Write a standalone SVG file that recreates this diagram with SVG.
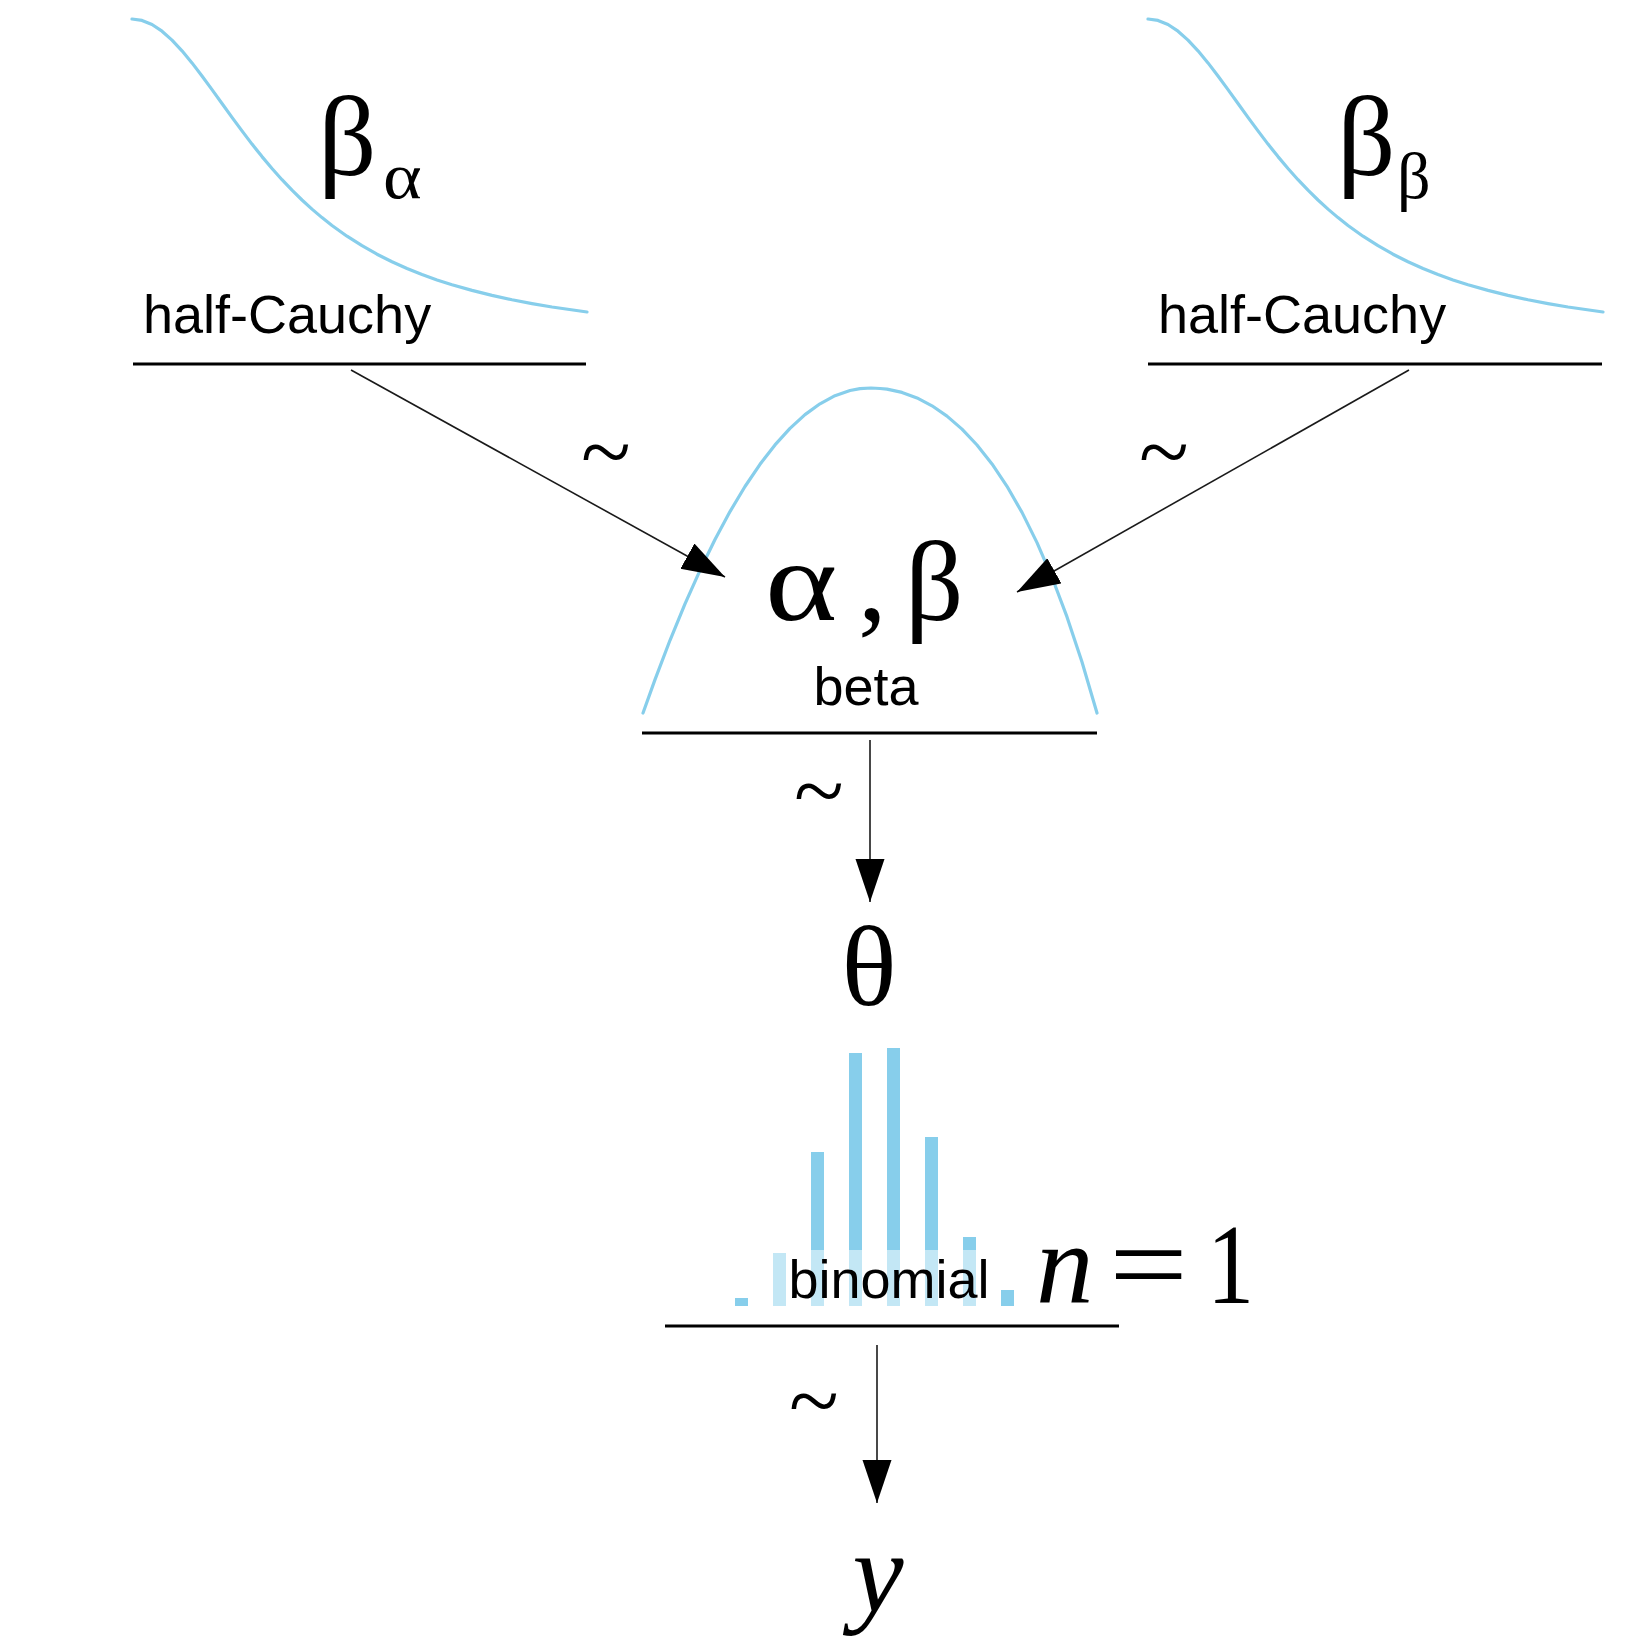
<svg xmlns="http://www.w3.org/2000/svg" width="1650" height="1650" viewBox="0 0 1650 1650">
<defs>
<style>
.curve{fill:none;stroke:#87CEEB;stroke-width:3.2;stroke-linejoin:round;stroke-linecap:round}
.rule{stroke:#000;stroke-width:3}
.edge{stroke:#1a1a1a;stroke-width:1.6;fill:none}
.lbl{font-family:"Liberation Sans",Arial,sans-serif;font-size:54px;fill:#000}
.math{font-family:"Liberation Serif","Times New Roman",serif;font-size:115px;fill:#000}
.sub{font-family:"Liberation Serif","Times New Roman",serif;font-size:66px;fill:#000}
.it{font-style:italic}
.tilde{font-family:"Liberation Serif","Times New Roman",serif;font-size:92px;fill:#000;text-anchor:middle}
.bar{fill:#87CEEB}
</style>
<marker id="arr" markerUnits="userSpaceOnUse" markerWidth="44" markerHeight="30" refX="43" refY="14.5" orient="auto">
<path d="M0,0 L43,14.5 L0,29 Z" fill="#000"/>
</marker>
</defs>
<rect width="1650" height="1650" fill="#fff"/>

<g id="node-beta-alpha">
<polyline class="curve" points="132,19 142,20.4 152,24.5 162,31.2 172,40.1 182,50.8 192,62.9 202,76 212,89.6 222,103.5 232,117.4 242,130.9 252,144.1 262,156.6 272,168.5 282,179.7 292,190.2 302,200 312,209.1 322,217.6 332,225.5 347,236.2 362,245.7 377,254.2 392,261.7 407,268.5 422,274.5 437,279.9 452,284.7 472,290.4 492,295.4 512,299.8 532,303.6 552,307 587,312"/>
<text class="math" x="318" y="175">β</text>
<text class="sub" transform="translate(383,198) scale(1.12,1)" font-size="72">α</text>
<text class="lbl" x="143" y="333">half-Cauchy</text>
<line class="rule" x1="133" y1="364" x2="586" y2="364"/>
</g>

<g id="node-beta-beta">
<polyline class="curve" points="1148,19 1158,20.4 1168,24.5 1178,31.2 1188,40.1 1198,50.8 1208,62.9 1218,76 1228,89.6 1238,103.5 1248,117.4 1258,130.9 1268,144.1 1278,156.6 1288,168.5 1298,179.7 1308,190.2 1318,200 1328,209.1 1338,217.6 1348,225.5 1363,236.2 1378,245.7 1393,254.2 1408,261.7 1423,268.5 1438,274.5 1453,279.9 1468,284.7 1488,290.4 1508,295.4 1528,299.8 1548,303.6 1568,307 1603,312"/>
<text class="math" x="1337" y="175">β</text>
<text class="sub" x="1397" y="198">β</text>
<text class="lbl" x="1158" y="333">half-Cauchy</text>
<line class="rule" x1="1148" y1="364" x2="1602" y2="364"/>
</g>

<g id="node-alpha-beta">
<polyline class="curve" points="643,713 655,679.6 670,640.3 685,603.9 700,570.3 715,539.5 730,511.6 745,486.5 760,464.3 775,444.9 790,428.4 805,414.6 820,403.8 835,395.7 850,390.5 860,388.6 871,388 880,388.5 887,389.1 902,392.4 917,397.9 932,405.8 947,416.1 962,429.1 977,445 992,463.9 1007,486.3 1022,512.4 1037,542.6 1052,577.3 1067,616.9 1082,662 1097,713"/>
<text class="math" transform="translate(765,620) scale(1.2,1)">α</text>
<text class="math" x="858" y="620">,</text>
<text class="math" x="905" y="620">β</text>
<text class="lbl" x="866" y="705" text-anchor="middle">beta</text>
<line class="rule" x1="642" y1="733" x2="1097" y2="733"/>
</g>

<g id="node-theta">
<text class="math" x="869" y="1005" text-anchor="middle" font-size="120">θ</text>
</g>

<g id="node-binomial">
<rect class="bar" x="735" y="1298" width="13" height="8"/>
<rect class="bar" x="773" y="1253" width="13" height="53"/>
<rect class="bar" x="811" y="1152" width="13" height="154"/>
<rect class="bar" x="849" y="1053" width="13" height="253"/>
<rect class="bar" x="887" y="1048" width="13" height="258"/>
<rect class="bar" x="925" y="1137" width="13" height="169"/>
<rect class="bar" x="963" y="1237" width="13" height="69"/>
<rect class="bar" x="1001" y="1290" width="13" height="16"/>
<rect x="767" y="1250" width="224" height="60" fill="#fff" fill-opacity="0.5"/>
<text class="lbl" x="889" y="1298" text-anchor="middle">binomial</text>
<text class="math it" x="1036" y="1303">n</text>
<text class="math" transform="translate(1109,1303) scale(1.22,1)">=</text>
<text class="math" transform="translate(1207,1303) scale(0.82,1)" font-size="122">1</text>
<line class="rule" x1="665" y1="1326" x2="1119" y2="1326"/>
</g>

<g id="node-y">
<text class="math it" x="878" y="1612" text-anchor="middle">y</text>
</g>

<g id="connectors">
<line class="edge" x1="351" y1="370" x2="725" y2="577" marker-end="url(#arr)"/>
<line class="edge" x1="1409" y1="370" x2="1017" y2="592" marker-end="url(#arr)"/>
<line class="edge" x1="870" y1="740" x2="870" y2="902" marker-end="url(#arr)"/>
<line class="edge" x1="877" y1="1345" x2="877" y2="1503" marker-end="url(#arr)"/>
<text class="tilde" x="606" y="482">~</text>
<text class="tilde" x="1164" y="482">~</text>
<text class="tilde" x="819" y="821">~</text>
<text class="tilde" x="814" y="1431">~</text>
</g>
</svg>
